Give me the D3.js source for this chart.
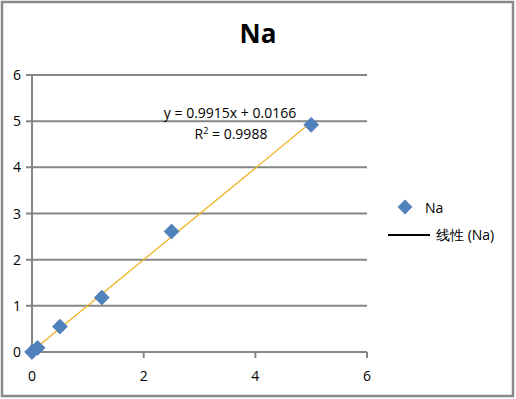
<!DOCTYPE html>
<html>
<head>
<meta charset="utf-8">
<script src="https://cdn.jsdelivr.net/npm/d3@7"></script>
<style>
  body { margin: 0; background: #fff; }
  text { font-family: "Open Sans", "Liberation Sans", sans-serif; fill: #000; }
</style>
</head>
<body>
<svg id="chart" width="516" height="399"></svg>
<script>
// data
const xValues = [0, 0.1, 0.5, 1.25, 2.5, 5];
const yValues = [0, 0.09, 0.55, 1.18, 2.61, 4.92];
const xTicks = [0, 2, 4, 6];
const yTicks = [0, 1, 2, 3, 4, 5, 6];
const slope = 0.9915, intercept = 0.0166, r2 = 0.9988;
const seriesName = 'Na';

const svg = d3.select('#chart');
const gridColor = '#868686';

// chart frame
svg.append('rect').attr('x', 2).attr('y', 2).attr('width', 511).attr('height', 394)
  .attr('fill', '#fff').attr('stroke', '#8a8a8a').attr('stroke-width', 2.5);

const x = d3.scaleLinear().domain([0, 6]).range([32, 367]);
const y = d3.scaleLinear().domain([0, 6]).range([352, 75]);

// title
svg.append('text').attr('x', 258).attr('y', 43).attr('text-anchor', 'middle')
  .style('font-size', '26px').style('font-weight', 'bold').text(seriesName);

// horizontal gridlines
svg.append('g').selectAll('line').data(yTicks).enter().append('line')
  .attr('x1', x(0) - 6).attr('x2', x(6))
  .attr('y1', d => y(d)).attr('y2', d => y(d))
  .attr('stroke', gridColor).attr('stroke-width', 2);

// y axis line
svg.append('line').attr('x1', x(0)).attr('x2', x(0)).attr('y1', y(6)).attr('y2', y(0) + 6)
  .attr('stroke', gridColor).attr('stroke-width', 2);

// x ticks
svg.append('g').selectAll('line').data(xTicks).enter().append('line')
  .attr('x1', d => x(d)).attr('x2', d => x(d)).attr('y1', y(0)).attr('y2', y(0) + 6)
  .attr('stroke', gridColor).attr('stroke-width', 2);

// tick labels
svg.append('g').selectAll('text').data(yTicks).enter().append('text')
  .attr('x', 21).attr('y', d => y(d) + 5).attr('text-anchor', 'end')
  .style('font-size', '14px').text(d => d);
svg.append('g').selectAll('text').data(xTicks).enter().append('text')
  .attr('x', d => x(d)).attr('y', y(0) + 29).attr('text-anchor', 'middle')
  .style('font-size', '14px').text(d => d);

// trendline
svg.append('line')
  .attr('x1', x(0)).attr('y1', y(intercept))
  .attr('x2', x(5)).attr('y2', y(slope * 5 + intercept))
  .attr('stroke', '#f0b323').attr('stroke-width', 1.3);

// points
const diamond = d3.symbol().type(d3.symbolDiamond2).size(140);
svg.append('g').selectAll('path').data(xValues).enter().append('path')
  .attr('d', diamond)
  .attr('transform', (d, i) => `translate(${x(d)},${y(yValues[i])})`)
  .attr('fill', '#4f81bd').attr('stroke', '#4a7ab4').attr('stroke-width', 0.8);

// equation label
svg.append('text').attr('x', 230).attr('y', 118).attr('text-anchor', 'middle')
  .style('font-size', '14px').text(`y = ${slope}x + ${intercept}`);
const rText = svg.append('text').attr('x', 231).attr('y', 139).attr('text-anchor', 'middle')
  .style('font-size', '14px');
rText.append('tspan').text('R');
rText.append('tspan').attr('dy', -5).style('font-size', '9px').text('2');
rText.append('tspan').attr('dy', 5).text(` = ${r2}`);

// legend
svg.append('path').attr('d', diamond)
  .attr('transform', `translate(405,207)`).attr('fill', '#4f81bd');
svg.append('text').attr('x', 425).attr('y', 213).style('font-size', '14px').text(seriesName);
svg.append('line').attr('x1', 388).attr('x2', 430).attr('y1', 235).attr('y2', 235)
  .attr('stroke', '#000').attr('stroke-width', 2);
svg.append('text').attr('x', 436).attr('y', 240).style('font-size', '14px')
  .text(`线性 (${seriesName})`);
</script>
</body>
</html>
